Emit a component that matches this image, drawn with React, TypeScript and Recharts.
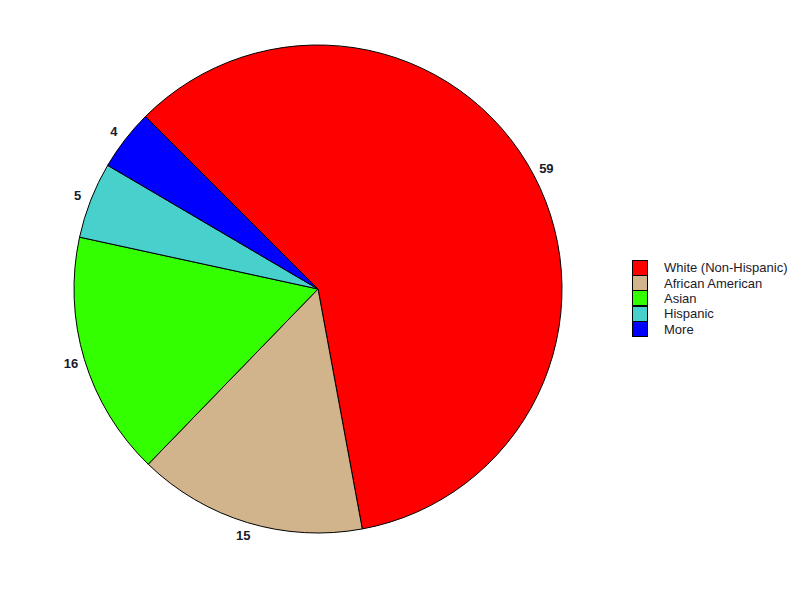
import React from "react";
import { Cell, Legend, Pie, PieChart } from "recharts";

const CATEGORIES = ["White (Non-Hispanic)", "African American", "Asian", "Hispanic", "More"];
const VALUES = [59, 15, 16, 5, 4];
const COLORS = ["#ff0000", "#d2b48c", "#33ff00", "#48d1cc", "#0000ff"];

const data = CATEGORIES.map((name, i) => ({ name, value: VALUES[i] }));

const RADIAN = Math.PI / 180;
const FONT = "'Liberation Sans', Arial, sans-serif";

function renderLabel(props: any) {
  const { cx, cy, midAngle, outerRadius, value } = props;
  const r = outerRadius + 14;
  const x = cx + r * Math.cos(-midAngle * RADIAN);
  const y = cy + r * Math.sin(-midAngle * RADIAN);
  return (
    <text
      x={x}
      y={y}
      textAnchor="middle"
      dominantBaseline="central"
      fill="#1a1a2a"
      fontSize={13}
      fontWeight="bold"
      fontFamily={FONT}
    >
      {value}
    </text>
  );
}

function LegendBox() {
  return (
    <div style={{ fontFamily: FONT, fontSize: 13, color: "#1a1a2a" }}>
      {CATEGORIES.map((c, i) => (
        <div key={c} style={{ display: "flex", alignItems: "center", height: 15.4 }}>
          <span
            style={{
              display: "inline-block",
              width: 14,
              height: 14,
              background: COLORS[i],
              border: "1px solid #000",
              marginRight: 16,
            }}
          />
          <span>{c}</span>
        </div>
      ))}
    </div>
  );
}

export default function App() {
  return (
    <div style={{ position: "absolute", left: 0, top: 0, width: 800, height: 600, background: "#fff" }}>
      <PieChart width={800} height={600} margin={{ top: 0, right: 0, bottom: 0, left: 0 }}>
        <Pie
          data={data}
          dataKey="value"
          nameKey="name"
          cx={318}
          cy={289}
          outerRadius={244}
          startAngle={135}
          endAngle={-225}
          stroke="#000"
          strokeWidth={1}
          label={renderLabel}
          labelLine={false}
          isAnimationActive={false}
        >
          {data.map((_, i) => (
            <Cell key={i} fill={COLORS[i]} />
          ))}
        </Pie>
        <Legend
          layout="vertical"
          content={<LegendBox />}
          wrapperStyle={{ position: "absolute", left: 632, top: 260, width: 170 }}
        />
      </PieChart>
    </div>
  );
}
